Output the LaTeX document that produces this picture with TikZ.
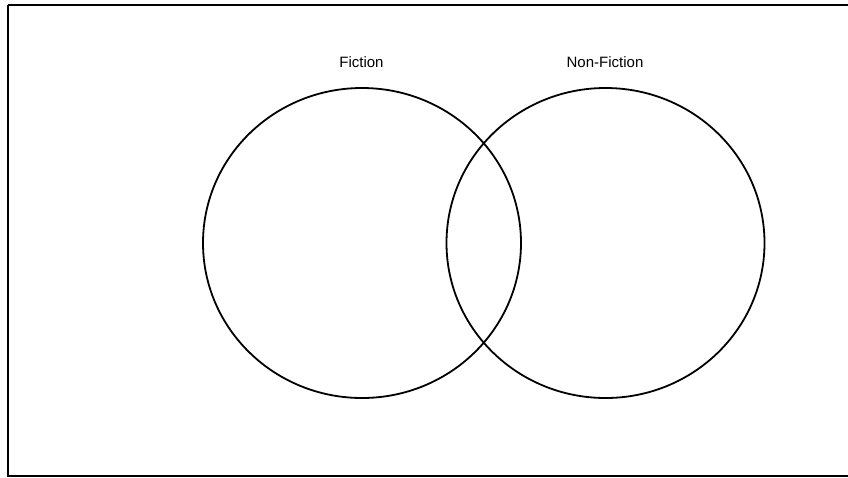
\documentclass[tikz,border=0pt]{standalone}
\usepackage{fontspec}
\setmainfont{Liberation Sans}
\usetikzlibrary{shapes.geometric}
\begin{document}
\begin{tikzpicture}[x=1pt,y=-1pt,
  ring/.style={draw=black,line width=1.8pt,ellipse,minimum width=318pt,minimum height=310pt,inner sep=0pt},
  lbl/.style={font=\fontsize{15}{17}\selectfont,inner sep=0pt}]
\useasboundingbox (0,0) rectangle (848,477);
\clip (0,0) rectangle (848,477);
\draw[line width=2pt] (8,5) -- (870,5) (8,5) -- (8,475.5) -- (870,475.5);
\node[ring] (fic) at (362,243) {};
\node[ring] (non) at (605.5,243) {};
\node[lbl] (ficl) at (361.5,62) {Fiction};
\node[lbl] (nonl) at (605,62) {Non-Fiction};
\end{tikzpicture}
\end{document}
